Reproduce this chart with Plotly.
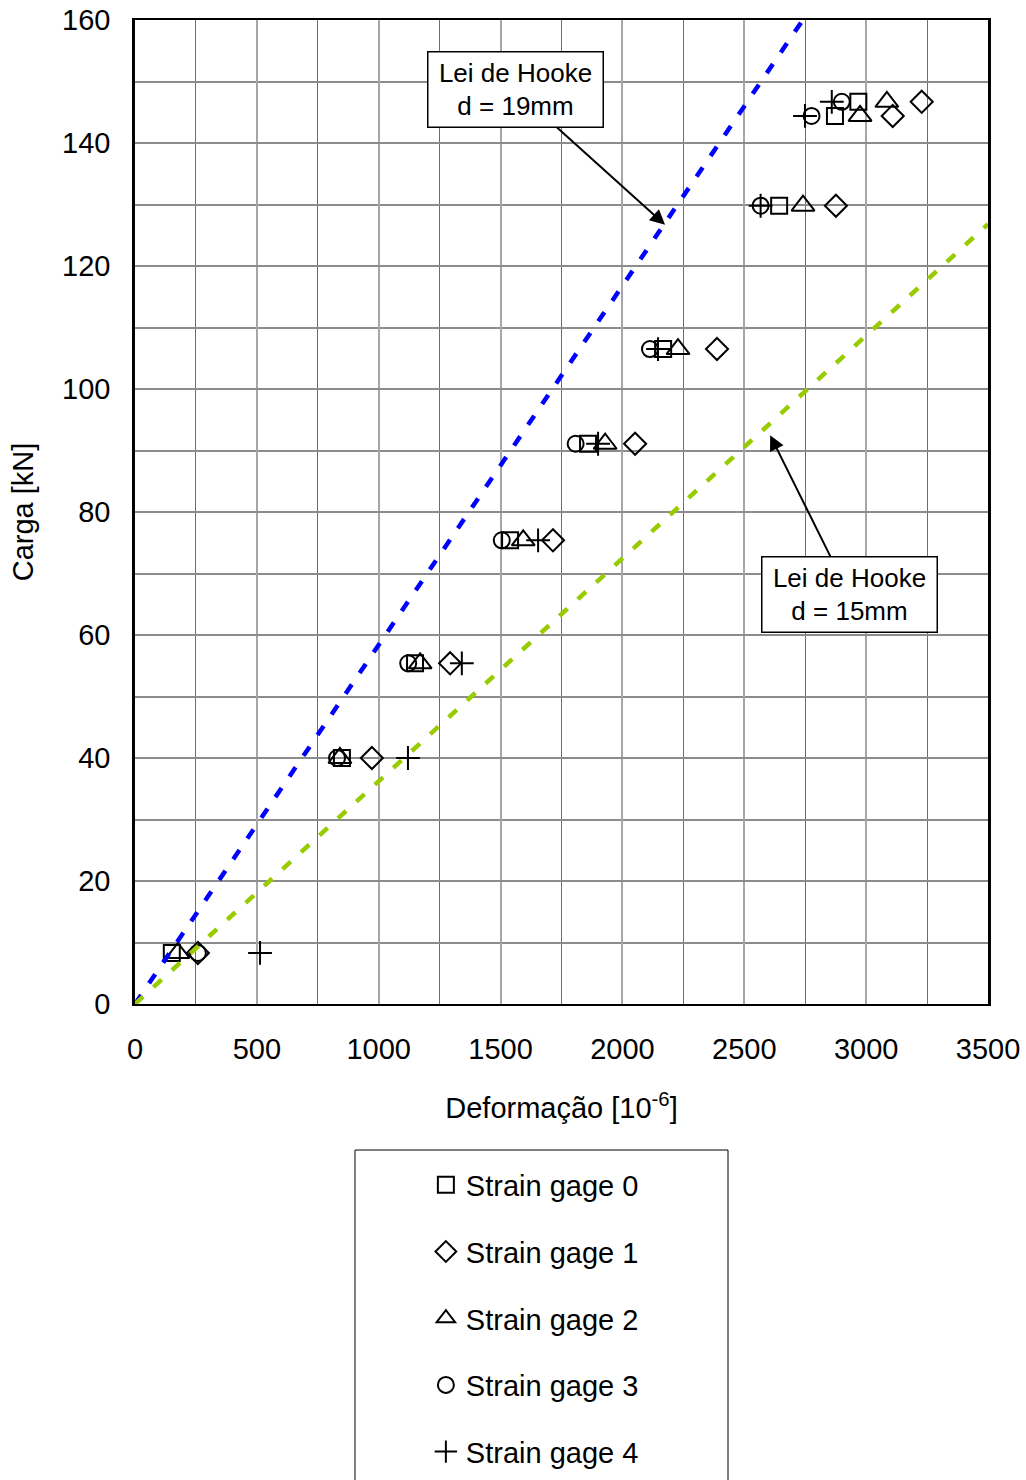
import plotly.graph_objects as go

# Load steps [kN] and strain readings [10^-6] for each gage
loads = [8.3, 40.0, 55.4, 75.4, 91.1, 106.5, 129.8, 144.4, 146.7]
sg0 = [151, 849, 1149, 1539, 1859, 2167, 2643, 2872, 2968]
sg1 = [258, 972, 1293, 1715, 2052, 2388, 2876, 3109, 3228]
sg2 = [176, 841, 1170, 1593, 1929, 2228, 2741, 2975, 3085]
sg3 = [258, 829, 1121, 1505, 1808, 2113, 2567, 2776, 2900]
sg4 = [513, 1120, 1341, 1654, 1900, 2146, 2567, 2749, 2859]

# Hooke's law reference lines (end points)
hooke19_x = [0, 2740]
hooke19_y = [0, 160]
hooke15_x = [0, 3500]
hooke15_y = [0, 126.8]

x_ticks = [0, 500, 1000, 1500, 2000, 2500, 3000, 3500]
y_ticks = [0, 20, 40, 60, 80, 100, 120, 140, 160]

FONT = "Liberation Sans, Arial, sans-serif"

series = [
    ("Strain gage 0", sg0, "square-open", 16),
    ("Strain gage 1", sg1, "diamond-open", 17),
    ("Strain gage 2", sg2, "triangle-up-open", 20),
    ("Strain gage 3", sg3, "circle-open", 16),
    ("Strain gage 4", sg4, "cross-thin-open", 17),
]

fig = go.Figure()
for i, (name, xs, sym, size) in enumerate(series):
    fig.add_trace(go.Scatter(
        x=xs, y=loads, mode="markers", name=name,
        legendgroup=f"g{i}",
        marker=dict(symbol=sym, size=size, color="black",
                    line=dict(color="black", width=2)),
    ))

fig.add_trace(go.Scatter(
    x=hooke19_x, y=hooke19_y, mode="lines", showlegend=False,
    line=dict(color="#0000ff", width=4.5, dash="11px,14px"),
))
fig.add_trace(go.Scatter(
    x=hooke15_x, y=hooke15_y, mode="lines", showlegend=False,
    line=dict(color="#99cc00", width=4.5, dash="11px,14px"),
))

ann_common = dict(
    showarrow=True, arrowhead=2, arrowsize=1.5, arrowwidth=2,
    arrowcolor="black", bgcolor="white", bordercolor="black",
    borderwidth=1.5, borderpad=8, width=158, height=58,
    font=dict(family=FONT, size=26, color="black"),
    xref="x", yref="y", axref="pixel", ayref="pixel",
)
fig.add_annotation(x=2175, y=126.7, ax=-150, ay=-135,
                   text="Lei de Hooke<br>d = 19mm", **ann_common)
fig.add_annotation(x=2606, y=92.5, ax=79, ay=159,
                   text="Lei de Hooke<br>d = 15mm", **ann_common)

# Frame around the legend
fig.add_shape(type="rect", xref="paper", yref="paper",
              x0=0.2579, x1=0.6952, y0=-0.1484, y1=-0.52,
              line=dict(color="black", width=1), fillcolor="white", layer="below")

fig.update_layout(
    width=1026, height=1480,
    margin=dict(l=135, r=38, t=20, b=476, autoexpand=False),
    paper_bgcolor="white", plot_bgcolor="white",
    font=dict(family=FONT, size=29, color="black"),
    legend=dict(x=0.341, y=-0.158, xanchor="left", yanchor="top",
                bgcolor="rgba(0,0,0,0)", borderwidth=0,
                font=dict(family=FONT, size=29, color="black"),
                tracegroupgap=26),
    xaxis=dict(
        range=[0, 3500], tickvals=x_ticks, ticktext=[str(v) for v in x_ticks],
        showgrid=True, gridcolor="#a6a6a6", gridwidth=2,
        minor=dict(dtick=250, showgrid=True, gridcolor="#6e6e6e", gridwidth=1),
        showline=True, linecolor="black", linewidth=2, mirror=True,
        zeroline=False, ticks="", ticklen=0, ticklabelstandoff=18,
        automargin=False,
        title=dict(text="Deformação [10<sup>-6</sup>]", standoff=34,
                   font=dict(family=FONT, size=29)),
        tickfont=dict(family=FONT, size=29),
    ),
    yaxis=dict(
        range=[0, 160], tickvals=y_ticks, ticktext=[str(v) for v in y_ticks],
        showgrid=True, gridcolor="#8c8c8c", gridwidth=1.5,
        minor=dict(dtick=10, showgrid=True, gridcolor="#8c8c8c", gridwidth=1.5),
        showline=True, linecolor="black", linewidth=2.5, mirror=True,
        zeroline=False, ticks="", ticklen=0, ticklabelstandoff=16,
        automargin=False,
        title=dict(text="Carga [kN]", standoff=20,
                   font=dict(family=FONT, size=29)),
        tickfont=dict(family=FONT, size=29),
    ),
)

fig.write_html("out.html")
